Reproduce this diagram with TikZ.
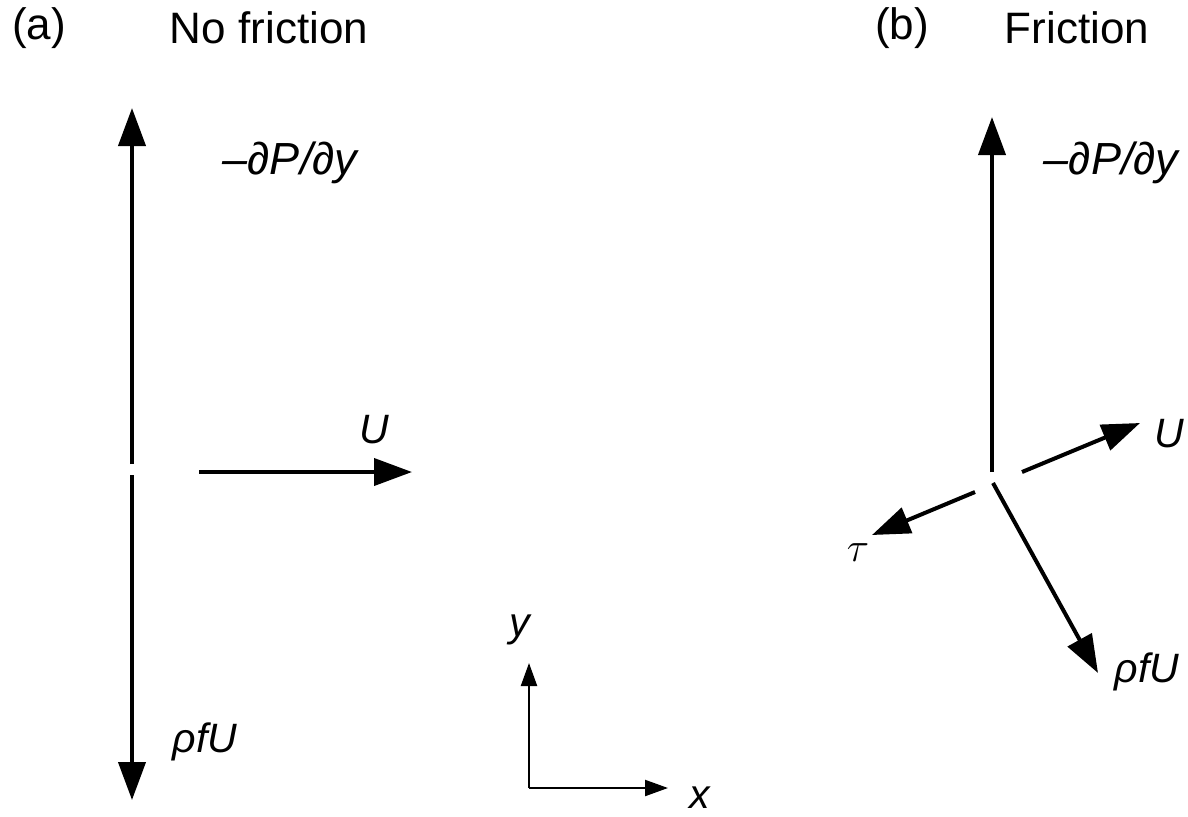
\documentclass[tikz,border=0pt]{standalone}
\usepackage{fontspec}
\setmainfont{Liberation Sans}
\usetikzlibrary{arrows.meta}
\begin{document}
\begin{tikzpicture}[x=0.5pt,y=-0.5pt,
  force/.style={line width=2pt,-{Triangle[length=19pt,width=13.5pt]}},
  axis/.style={line width=1.1pt,-{Triangle[length=11.5pt,width=8pt]}},
  title/.style={inner sep=0pt,font=\fontsize{22}{26}\selectfont},
  lab/.style={inner sep=0pt,font=\fontsize{20.5}{24}\selectfont\itshape},
  plab/.style={inner sep=0pt,font=\fontsize{22.5}{26}\selectfont\itshape}]
\useasboundingbox (0,0) rectangle (1188,816);
% titles
\node[title] (ta) at (39,28) {(a)};
\node[title] (tna) at (269,28) {No friction};
\node[title] (tb) at (902,28) {(b)};
\node[title] (tnb) at (1077,28) {Friction};
% (a) no friction
\coordinate (a0t) at (132,464);
\coordinate (a0b) at (132,475);
\coordinate (aP) at (132,108);
\coordinate (aF) at (132,800);
\coordinate (aUs) at (199,472);
\coordinate (aUe) at (412,472);
\draw[force] (a0t) -- (aP);
\draw[force] (a0b) -- (aF);
\draw[force] (aUs) -- (aUe);
\node[plab] (laP) at (290,163) {–∂P/∂y};
\node[lab] (laU) at (374,430) {U};
\node[lab] (laF) at (205,742) {ρfU};
% axes
\coordinate (o) at (529,788);
\coordinate (oy) at (529,663);
\coordinate (ox) at (668,788);
\draw[axis] (o) -- (oy);
\draw[axis] (o) -- (ox);
\node[lab] (ly) at (520,630) {y};
\node[lab] (lx) at (700,798) {x};
% (b) friction
\coordinate (b0) at (992,472);
\coordinate (bP) at (992,117);
\coordinate (bUs) at (1022,472);
\coordinate (bUe) at (1140,423);
\coordinate (bTs) at (975,492);
\coordinate (bTe) at (872,535);
\coordinate (bFs) at (993,483);
\coordinate (bFe) at (1098,673);
\draw[force] (b0) -- (bP);
\draw[force] (bUs) -- (bUe);
\draw[force] (bTs) -- (bTe);
\draw[force] (bFs) -- (bFe);
\node[plab] (lbP) at (1111,163) {–∂P/∂y};
\node[lab] (lbU) at (1169,434) {U};
\node[inner sep=0pt,font=\fontsize{20}{24}\selectfont] (lbT) at (858,553) {$\tau$};
\node[lab] (lbF) at (1147,672) {ρfU};
\end{tikzpicture}
\end{document}
